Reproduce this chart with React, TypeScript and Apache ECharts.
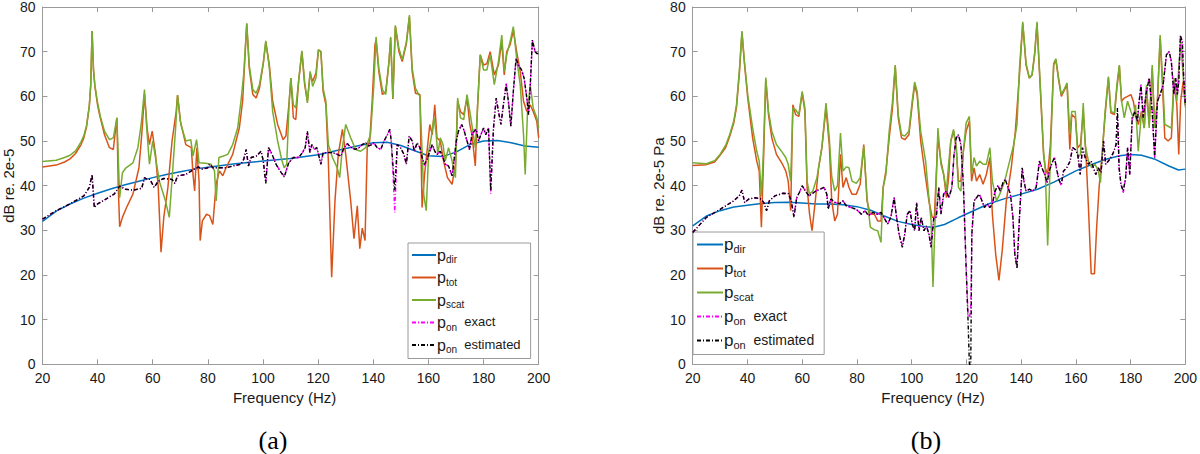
import React, { useEffect, useRef } from "react";
import * as echarts from "echarts";

// ---------- axis ticks ----------
const freqMin = 20;
const freqMax = 200;
const freqStep = 20;
const dbMin = 0;
const dbMax = 80;
const dbStep = 10;

// ---------- labels ----------
const seriesNames = ["p_dir", "p_tot", "p_scat", "p_on exact", "p_on estimated"];
const xName = "Frequency (Hz)";
const yNameA = "dB re. 2e-5";
const yNameB = "dB re. 2e-5 Pa";
const captionA = "(a)";
const captionB = "(b)";

// ---------- panel (a) data: [frequency Hz, dB] ----------
const aDir: number[][] = [[20,32],[25,34.3],[30,35.9],[35,37.2],[40,38.3],[45,39.3],[50,40.2],[55,41],[60,41.8],[65,42.5],[70,43.1],[75,43.7],[80,44.1],[90,44.9],[100,45.5],[110,46.1],[120,46.9],[130,48.3],[135,49],[140,49.6],[145,49.7],[150,49],[155,47.8],[160,46.7],[165,46.5],[170,47.5],[175,49.2],[180,50],[185,50.1],[190,49.6],[195,48.9],[200,48.6]];

const aTot: number[][] = [[20,44.2],[25,44.6],[28,45.3],[30,46],[32,47.2],[34,49.2],[35,50.7],[36,53.2],[37,57.8],[37.5,62.5],[38,74.6],[38.5,66],[39,62.3],[40,58],[40.7,55.9],[42.5,51.4],[44.3,48.5],[45.7,48.1],[47,55.2],[47.5,39.6],[48,30.8],[49,32.9],[50.5,35.1],[52.8,38.1],[55,44],[56,51.4],[57,60.5],[58,52.6],[58.8,49.2],[59.8,52.2],[61,47],[62,39.6],[63,25.1],[64,32.9],[65.5,39.6],[67,50],[68.5,56.6],[69,60.3],[70,54.5],[72,49.2],[74,48.5],[74.6,42.5],[75.2,38.8],[76,48.5],[76.8,41],[77.2,27.7],[78,32.1],[79.5,33.6],[80.6,33.3],[81.8,31.3],[83,40.4],[84.2,43.3],[85.4,42.2],[86.6,44],[89,47],[91.4,52.9],[92.6,58.9],[94.1,76.3],[95,66.3],[96.3,60.4],[97.5,59.6],[98.7,61.8],[100.1,67.4],[101,72.2],[102.3,67],[103.5,58.9],[105.3,53.7],[107.3,50.3],[108.3,51.1],[109.5,58.9],[110.1,64.1],[111,55.2],[111.9,54.8],[112.9,63.3],[114.1,70],[115.1,62.6],[116.1,58.9],[117.1,65.2],[118,63.3],[119.2,65.2],[120.1,70.4],[121,70],[121.8,61.1],[122.8,58.1],[123.7,45.5],[124.9,19.5],[126.1,36.6],[127.3,47],[128.8,52.6],[130,47],[131.8,36.6],[133,28.1],[134.2,35.5],[135.1,25.9],[136,30.5],[137,27.7],[137.8,48.5],[138.7,50],[139.6,58.9],[140.6,71.5],[141,72.6],[142,65.6],[143.3,60.4],[144.5,61],[145.7,67.8],[146.3,73],[147.1,59.4],[148,75.6],[149.3,70],[150.5,67.8],[152,71.8],[153.1,77.8],[154.1,65.6],[155.3,60.7],[156.9,60.4],[157.7,35.1],[158.6,42.5],[159.5,47.7],[160.5,53.7],[161.4,51.4],[162.3,58.1],[163.1,50.7],[164.3,50],[165.5,45.5],[166.9,41.8],[168.6,40.3],[169.8,44.8],[170.6,58.9],[171.6,56.6],[172.8,55.9],[174,59.6],[175,53.7],[175.8,51.4],[177,44.4],[177.8,57.4],[178.8,69.3],[180,67],[181.2,67.3],[182.4,70],[183.9,64.8],[185.4,67],[186.6,72.3],[187.5,64.8],[188.4,70],[189.6,71.5],[190.8,74.8],[192,70],[193.3,65.6],[194.5,58.9],[195.7,56.6],[196.9,58.1],[198,56.6],[199.3,54.4],[200,50.7]];

const aScat: number[][] = [[20,45.4],[25,45.7],[28,46.3],[30,46.8],[32,47.8],[34,49.8],[35,51.2],[36,53.5],[37,58],[37.5,62.5],[38,74.6],[38.5,66],[39,62.5],[40,58.5],[41,55.5],[42.5,52.2],[44.3,50.3],[45.7,50.7],[47,55.2],[48,37.3],[49,42.9],[50.3,44],[52.8,45.1],[54.6,48.5],[55.8,53.7],[57,61.5],[57.8,52.9],[58.8,44.8],[60,50],[61,46.3],[62.4,41],[64.6,36.6],[66,32.9],[67.3,44],[68.3,53],[69,60.3],[70.2,53.7],[72,50],[73.8,50.3],[74.6,46.6],[75.9,50.3],[76.8,45.1],[79.2,45],[81.2,44.8],[82.4,43.3],[83,36.6],[84,46.3],[85.4,46.6],[87.2,47],[89,49.2],[90.8,52.9],[92,58.9],[93,65],[94.1,76.3],[95,67],[96.3,61.5],[97.5,60.7],[98.7,62.6],[100.1,67.5],[101,72.4],[102.3,66.3],[103.5,56.6],[105.3,50],[106.9,45.5],[107.7,44],[108.6,44.8],[109.5,58.9],[110.1,64.1],[111,58.1],[111.9,57.4],[112.9,63.3],[114.1,70.2],[115.1,63.3],[116.1,58.5],[117.1,65.6],[118,62.2],[119.2,64.1],[120.1,70.4],[121,70],[121.8,61.8],[122.8,58.9],[123.7,49.2],[125.2,46.3],[126.9,44],[127.8,41.8],[128.8,48.5],[130,53.7],[131.8,50.7],[133.6,48.1],[135.4,47.7],[137.2,48.5],[139,51.4],[140.2,62.6],[141,73.3],[142,66.3],[143.3,61.5],[144.5,60.4],[145.7,67.8],[146.3,73.3],[147.1,59.6],[148,75.9],[149.3,70.7],[150.5,68.2],[152,72.2],[153.1,78.2],[154.1,66.3],[155.3,61.8],[156.9,60],[157.7,47.7],[158.3,38],[159.2,34.4],[160.1,47.7],[161,50.7],[162,55.2],[162.7,52.2],[163.4,47],[164.3,50.7],[165.3,49.2],[166.1,45.5],[167.3,48.5],[168.6,45.5],[169.8,41.8],[170.6,59.6],[171.6,55.2],[172.8,54.8],[174,60.4],[175.2,55.9],[176.1,52.2],[177,48.5],[177.8,57.4],[178.8,69.3],[180,65.9],[181.2,65.9],[182.4,69.3],[183.9,62.6],[185.4,67.8],[186.6,73.7],[187.5,65.6],[188.4,69.3],[189.6,72.2],[190.8,75.6],[192,68.5],[193.3,62.6],[194.5,51.4],[195.1,42.5],[195.9,55.9],[196.9,62.6],[198,57.4],[199.3,55.2],[200,53]];

const aExact: number[][] = [[20,32.5],[25,34.4],[30,35.9],[35,37.7],[37,39.6],[38,42.5],[38.8,35.1],[40,35.9],[43,37],[46,38.1],[48,39.9],[50,39.2],[53,39],[56,39.4],[57,41.8],[58,41.4],[59,41.4],[60.5,39.6],[62,41],[64,41.6],[67,41.4],[68,40.5],[69,42.2],[72,42.5],[75,43.7],[76.5,44.2],[78,43.7],[80,44],[80.6,44.8],[81.8,44],[84.2,44],[86.6,44],[89,44.4],[92,44.8],[93,45.9],[93.9,48.1],[94.7,44.4],[95.7,46.3],[97.5,46.6],[99.3,47.7],[100.1,45.5],[101,40.8],[102,48.5],[103.3,47],[104.7,44.8],[106.2,43.3],[107.7,42.1],[109.3,45.1],[111,46.3],[112.9,46.3],[114.3,47.4],[115.3,48.5],[116.1,51.8],[117,47.4],[117.7,49.2],[118.6,48.1],[119.5,48.5],[120.4,46.3],[121,44.8],[121.8,47.4],[123.4,47.4],[125.2,47.4],[127,47],[128.2,46.6],[129.4,48.5],[130.6,49.4],[131.8,48.6],[133.4,48.1],[134.8,48.5],[136,49.2],[137.2,49.6],[138.4,48.9],[139.6,49.2],[140.2,49.6],[141.4,48.5],[142.7,48.1],[143.9,50],[145.1,51.4],[146,52.6],[146.5,50],[147.2,42],[147.8,34],[148.7,49.2],[149.9,48.5],[151.1,47],[152,44.8],[153,51.1],[154.1,50],[154.9,47.7],[155.9,49.6],[156.9,48.5],[157.7,46.3],[158.6,44.5],[159.5,45.9],[160.5,47.7],[161.4,49.2],[162.3,47.7],[163.1,47],[164.3,47.7],[165.3,46.3],[166.1,44.8],[167.3,44.4],[168.6,42.2],[169.4,46.3],[170.1,50],[170.9,52.2],[172.1,53.7],[173,52.2],[174,50],[174.9,48.1],[175.8,51.4],[176.6,52.6],[177.3,52.6],[178.2,50],[179,51.4],[180,52.9],[180.8,51.4],[181.8,52.9],[182.6,38.2],[183.6,52.9],[184.6,59.6],[185.4,56.6],[186.3,53.7],[187.2,58.1],[188.2,63],[189,58.9],[189.9,53.3],[190.8,61.1],[191.8,68.5],[192.6,67],[193.8,65.9],[194.7,64.1],[195.7,59.6],[196.3,55.9],[196.9,61.8],[197.7,72.6],[198.7,70],[199.3,69.6],[200,69.6]];

const aEst: number[][] = [[20,32.5],[25,34.4],[30,35.9],[35,37.7],[37,39.6],[38,42.5],[38.8,35.1],[40,35.9],[43,37],[46,38.1],[48,39.9],[50,39.2],[53,39],[56,39.4],[57,41.8],[58,41.4],[59,41.4],[60.5,39.6],[62,41],[64,41.6],[67,41.4],[68,40.5],[69,42.2],[72,42.5],[75,43.7],[76.5,44.2],[78,43.7],[80,44],[80.6,44.8],[81.8,44],[84.2,44],[86.6,44],[89,44.4],[92,44.8],[93,45.9],[93.9,48.1],[94.7,44.4],[95.7,46.3],[97.5,46.6],[99.3,47.7],[100.1,45.5],[101,40.5],[102,48.5],[103.3,47],[104.7,44.8],[106.2,43.3],[107.7,41.9],[109.3,45.1],[111,46.3],[112.9,46.3],[114.3,47.4],[115.3,48.5],[116.1,52.2],[117,47.4],[117.7,49.2],[118.6,48.1],[119.5,48.5],[120.4,46.3],[121,44.8],[121.8,47.4],[123.4,47.4],[125.2,47.4],[127,47],[128.2,46.6],[129.4,48.5],[130.6,49.4],[131.8,48.6],[133.4,48.1],[134.8,48.5],[136,49.2],[137.2,49.6],[138.4,48.9],[139.6,49.2],[140.2,49.6],[141.4,48.5],[142.7,48.1],[143.9,50],[145.1,51.4],[146,52.6],[146.5,50],[147.2,44],[147.8,39],[148.7,49.2],[149.9,48.5],[151.1,47],[152,44.8],[153,51.1],[154.1,50],[154.9,47.7],[155.9,49.6],[156.9,48.5],[157.7,46.3],[158.6,44.8],[159.5,45.9],[160.5,47.7],[161.4,49.2],[162.3,47.7],[163.1,47],[164.3,47.7],[165.3,46.3],[166.1,44.8],[167.3,44.4],[168.6,42.2],[169.4,46.3],[170.1,50],[170.9,52.2],[172.1,53.7],[173,52.2],[174,50],[174.9,48.1],[175.8,51.4],[176.6,52.2],[177.3,52.6],[178.2,50],[179,51.4],[180,52.9],[180.8,51.4],[181.8,52.9],[182.6,38.8],[183.6,52.9],[184.6,59.6],[185.4,56.6],[186.3,53.7],[187.2,58.1],[188.2,62.6],[189,58.9],[189.9,53.3],[190.8,61.1],[191.8,68.5],[192.6,67],[193.8,65.9],[194.7,64.1],[195.7,59.6],[196.3,55.9],[196.9,61.8],[197.7,72.6],[198.7,70],[199.3,69.6],[200,69.6]];

// ---------- panel (b) data: [frequency Hz, dB] ----------
const bDir: number[][] = [[20,31],[25,33.2],[30,34.4],[35,35.2],[40,35.6],[45,36],[50,36.2],[55,36.3],[60,36.1],[65,35.9],[70,35.9],[75,35.7],[80,35.3],[85,34.5],[90,33.2],[95,32],[100,31.3],[105,30.8],[108,30.7],[112,31.3],[117,32.8],[122,34.2],[128,35.9],[134,37.1],[140,38.1],[146,39.2],[152,40.8],[160,43.3],[166,44.8],[171,45.9],[176,46.7],[180,47],[184,46.8],[189,45.9],[194,44.4],[197.5,43.5],[200,43.7]];

const bTot: number[][] = [[20,44.5],[25,44.7],[28,45.3],[30,46.8],[32,48.5],[33.5,51],[35,54],[36,57.5],[37.1,65.5],[38,74.3],[38.9,67.4],[40.1,59.7],[41.9,50.7],[43.4,45.5],[44.3,43.3],[45.1,30.7],[45.8,44],[46.7,63.7],[47.7,55.9],[48.9,50.7],[50.6,47],[52.8,44.8],[54,43.3],[54.9,41],[55.8,34.4],[56.6,58.1],[57.6,55.9],[58.8,55.5],[60,60.7],[61,56.6],[61.8,39.6],[62.7,33.6],[63.6,29.9],[64.8,36.6],[66,44],[67.2,48.5],[68.7,57.4],[69.9,49.2],[70.8,36.6],[71.9,32.1],[72.9,33.6],[74,47],[74.9,39.6],[76.1,41.8],[77.1,39.6],[78.2,38.1],[79.8,38.1],[81.2,40.3],[82.5,49.2],[83.7,36.6],[84.9,33.6],[86.4,33.6],[87.6,32.1],[88.8,32.1],[89.6,39.6],[90.6,43.3],[91.8,50.7],[93,57.4],[94,66.7],[95.1,55.2],[96.3,50.7],[97.5,50.3],[99,51.4],[100.2,58.1],[101.1,62.6],[102,60.4],[103.3,50],[105.1,41.8],[106.3,36.6],[107.5,32.9],[108.3,32.9],[109.6,50.7],[110.7,45.5],[111.7,42.5],[112.7,37.3],[113.5,41.8],[114.3,50],[115.3,52.2],[116.3,48.5],[117.1,41],[118,41],[118.9,47.7],[119.9,52.2],[121.1,54.4],[121.9,41],[122.8,44],[123.7,41],[124.9,42.5],[126.1,40.3],[127.3,42.5],[128.6,46.3],[129.5,33.6],[130.7,24.7],[131.9,18.8],[133.1,25.5],[134.6,36.6],[136.4,44],[137.9,52.2],[139.4,64.8],[140.6,76.3],[141.8,67],[143,64.1],[144,64.8],[145,69.6],[145.8,76.3],[147,61.8],[148.2,47],[148.8,44],[149.7,42.5],[150.7,49.2],[151.9,67],[152.7,68.2],[153.7,63.7],[154.7,60],[155.9,61.5],[156.8,62.6],[157.8,48.1],[158.5,55.9],[159.8,55.2],[160.7,48.5],[161.7,49.2],[162.7,56.6],[163.7,47],[164.6,35.1],[165.6,20.3],[166.8,20.3],[167.6,30.7],[168.5,39.6],[169.5,46.3],[170.7,55.9],[171.9,64.1],[172.8,56.3],[174.1,55.9],[175,61.8],[175.9,66.7],[176.7,58.9],[177.7,59.6],[178.9,60],[180.1,60.4],[181,58.9],[181.8,55.9],[182.8,53.7],[184,56.6],[185,52.9],[185.8,61.8],[186.8,53.7],[187.9,66.3],[188.8,52.9],[189.8,58.9],[190.8,73],[191.6,63.3],[192.5,50.7],[193.7,50],[194.9,50.7],[195.9,63.3],[196.9,58.1],[197.6,47],[198.3,58.9],[199.2,63.3],[200,58.1]];

const bScat: number[][] = [[20,45.1],[25,44.9],[28,45.6],[30,47],[32,49],[33.5,51.4],[35,54.5],[36,58.1],[37.1,66.3],[38,74.6],[38.9,67.8],[40.1,60.4],[41.9,52.9],[43.4,47.7],[44.3,45.5],[45.1,37.7],[45.8,47],[46.7,64.2],[47.7,56.6],[48.9,52.2],[50.6,49.2],[52.8,47.4],[54,46.3],[54.9,44.8],[55.8,41],[56.6,57.4],[57.6,57],[58.8,55.9],[60,61.1],[61,57.4],[61.8,41],[62.7,38.1],[63.9,38.8],[65.4,41.8],[67.2,48.5],[68.7,58.5],[69.9,50.7],[70.8,42],[71.9,38.8],[72.9,40],[74,51.8],[74.9,43.3],[76.1,44.2],[77.1,44],[78.2,41],[79.8,40.5],[81.2,41.8],[82.5,48.8],[83.7,37.3],[84.9,30.7],[86.4,30.1],[87.6,29.9],[88.8,27.3],[89.6,39.6],[90.6,42.5],[91.8,52.2],[93,58.9],[94,67],[95.1,55.9],[96.3,51.4],[97.5,51.1],[99,52.2],[100.2,58.9],[101.1,63.2],[102,61.1],[103.3,52.2],[105.1,45.5],[106.3,37.3],[107.1,32.1],[107.8,17.3],[108.7,35.1],[109.6,52.9],[110.7,44.8],[111.7,42.5],[112.7,38.8],[113.5,44.8],[114.3,50],[115.3,52.6],[116.3,48.5],[117.1,39.6],[118,38.8],[118.9,47.7],[119.9,54],[121.1,55.5],[121.9,42.5],[122.8,46.3],[123.7,44.4],[124.9,45.5],[126.1,44.8],[127.3,44.8],[128.6,48.5],[129.5,41],[131,36.6],[132.2,38.1],[134,41],[135.8,45.5],[137.3,49.2],[138.5,53.7],[139.4,66.3],[140.6,76.7],[141.8,67.4],[143,64.1],[144,64.8],[145,70],[145.8,76.7],[147,62.6],[148.2,47.7],[148.8,44],[149.7,26.6],[150.7,46.3],[151.9,67.4],[152.7,68.4],[153.7,64.1],[154.7,60.4],[155.9,61.8],[156.8,63],[157.8,51.4],[158.5,56.6],[159.8,56.6],[160.7,46.3],[161.7,47],[162.7,58.5],[163.4,49.2],[164.6,45.5],[165.8,44],[167,44.8],[168.2,43.3],[169,40.7],[169.7,47.7],[170.7,56.6],[171.9,64.4],[172.8,56.6],[174.1,56.3],[175,62.6],[175.9,67],[176.7,58.9],[177.7,55.2],[178.9,58.9],[180.1,56.6],[181,55.2],[181.8,58.1],[182.8,47.7],[184,56.6],[185,52.9],[185.8,62.6],[186.8,52.9],[187.9,67],[188.8,52.9],[189.8,58.9],[190.8,73.7],[191.6,64.8],[192.5,53.7],[193.7,53.3],[194.9,52.9],[195.9,64.1],[196.9,58.9],[197.6,66.3],[198.3,72.2],[199.2,64.8],[200,57.5]];

const bExact: number[][] = [[20,29.5],[25,32.9],[30,34.7],[35,36.6],[37,37.7],[38,39],[39,36.2],[40.5,37],[43,37.3],[45,37],[46,36.2],[47,34.4],[48,36.6],[50,37.7],[53,38.3],[55,38.2],[56,36.6],[57,33.2],[58,37.3],[59,38.5],[60,40],[61.5,38.5],[62.5,37.7],[65,38.8],[68,39.6],[69,38.1],[69.5,35],[70.5,37],[72.1,36.2],[73.7,36],[74.9,36.6],[76.1,35.5],[77.9,35.1],[79.8,34.7],[81.6,33.6],[83,34.4],[84.2,33.3],[85.8,34],[87.3,33.6],[88.8,34],[90.2,32.5],[91.2,31.4],[92.4,32.9],[93.6,37.3],[94.5,32.9],[95.4,29.2],[96.6,26.5],[97.5,29.2],[98.4,33.6],[99.4,34.4],[100.2,31.4],[101.1,29.9],[101.8,36.2],[102.7,29.9],[103.5,32.9],[104.5,29.9],[105.4,31],[106.3,29.2],[107.1,26.5],[108.1,32.9],[109,32.9],[109.9,39.6],[110.7,33.6],[111.7,38.1],[112.7,38.8],[113.6,37.3],[114.7,39.6],[115.5,47],[116.3,50.7],[117.1,51.4],[118,49.2],[118.9,40.3],[119.9,21.8],[120.6,11],[121.1,10.5],[121.6,12],[122,29.2],[122.8,36.6],[123.7,37.3],[124.7,38.1],[125.7,36.6],[126.6,35.1],[127.6,35.9],[128.6,35.1],[129.5,35.9],[130.5,38.8],[131.5,40],[132.4,38.8],[133.4,40.7],[134.2,41.4],[135.2,39.6],[136.1,38.1],[137,32.9],[137.7,24.7],[138.5,22],[139.4,32.9],[140.4,44],[141,41.1],[141.8,38.8],[143,39.2],[144.2,38.8],[145.5,39.6],[146.7,45.5],[147.6,44],[148.6,42.5],[149.5,40.7],[150.3,43.3],[151.3,45.1],[152.2,46.3],[153.1,43.3],[153.9,41.1],[154.7,40],[155.5,43.3],[156.7,44],[157.9,45.5],[158.8,48.5],[159.8,48.1],[160.7,47],[161.6,42.5],[162.4,48.5],[163.4,46.3],[164.6,44.8],[165.6,45.5],[166.4,44],[167.3,42.5],[168.2,44],[169.2,42.9],[170.1,50],[170.9,44.8],[171.9,45.5],[172.8,46.3],[173.7,47.4],[174.7,49.2],[175.2,55.5],[175.8,44],[176.5,40.3],[177.3,38.3],[178.2,41.8],[178.9,48.5],[179.7,42.5],[180.6,55.2],[181.6,56.6],[182.5,54.4],[183,58.1],[183.8,62.6],[184.6,55.2],[185.6,60.4],[186.8,64.1],[187.9,56.6],[188.8,46.3],[189.8,58.9],[190.8,60.4],[191.9,62.6],[193.1,69.3],[194.1,70],[194.9,67.8],[195.8,60.4],[196.5,64.1],[197.1,60.4],[197.6,63.3],[198.2,73.2],[198.9,72.2],[199.4,64.1],[200,58.1]];

const bEst: number[][] = [[20,29.5],[25,32.9],[30,34.7],[35,36.6],[37,37.7],[38,39],[39,36.2],[40.5,37],[43,37.3],[45,37],[46,36.2],[47,34.4],[48,36.6],[50,37.7],[53,38.3],[55,38.2],[56,36.6],[57,32.9],[58,37.3],[59,38.5],[60,40],[61.5,38.5],[62.5,37.7],[65,38.8],[68,39.6],[69,38.1],[69.5,34.7],[70.5,37],[72.1,36.2],[73.7,36],[74.9,36.6],[76.1,35.5],[77.9,35.1],[79.8,34.7],[81.6,33.6],[83,34.4],[84.2,33.3],[85.8,34],[87.3,33.6],[88.8,34],[90.2,32.5],[91.2,31.4],[92.4,32.9],[93.6,37.3],[94.5,32.9],[95.4,29.2],[96.6,26.2],[97.5,29.2],[98.4,33.6],[99.4,34.4],[100.2,31.4],[101.1,29.9],[101.8,36.2],[102.7,29.9],[103.5,32.9],[104.5,29.9],[105.4,31],[106.3,29.2],[107.1,26.2],[108.1,32.9],[109,32.9],[109.9,39.6],[110.7,33.6],[111.7,38.1],[112.7,38.8],[113.6,37.3],[114.7,39.6],[115.5,47],[116.3,50.7],[117.1,51.4],[118,49.2],[118.9,40.3],[119.9,21.8],[120.6,9.9],[121.1,0],[121.6,0],[122,29.2],[122.8,36.6],[123.7,37.3],[124.7,38.1],[125.7,36.6],[126.6,35.1],[127.6,35.9],[128.6,35.1],[129.5,35.9],[130.5,38.8],[131.5,40],[132.4,38.8],[133.4,40.7],[134.2,41.4],[135.2,39.6],[136.1,38.1],[137,32.9],[137.7,24.7],[138.5,21.4],[139.4,32.9],[140.4,44],[141,41.1],[141.8,38.8],[143,39.2],[144.2,38.8],[145.5,39.6],[146.7,45.5],[147.6,44],[148.6,42.5],[149.5,40.7],[150.3,43.3],[151.3,45.1],[152.2,46.3],[153.1,43.3],[153.9,41.1],[154.7,40.3],[155.5,43.3],[156.7,44],[157.9,45.5],[158.8,48.5],[159.8,48.1],[160.7,47],[161.6,42.5],[162.4,48.5],[163.4,46.3],[164.6,44.8],[165.6,45.5],[166.4,44],[167.3,42.5],[168.2,44],[169.2,42.9],[170.1,50],[170.9,44.8],[171.9,45.5],[172.8,46.3],[173.7,47.4],[174.7,49.2],[175.2,57.4],[175.8,44],[176.5,40.3],[177.3,38.8],[178.2,41.8],[178.9,48.5],[179.7,42.5],[180.6,55.2],[181.6,56.6],[182.5,54.4],[183,58.1],[183.8,62.6],[184.6,55.2],[185.6,60.4],[186.8,64.1],[187.9,56.6],[188.8,46.3],[189.8,58.9],[190.8,60.4],[191.9,62.6],[193.1,69.3],[194.1,70],[194.9,67.8],[195.8,60.4],[196.5,64.1],[197.1,60.4],[197.6,63.3],[198.2,73.7],[198.9,72.2],[199.4,64.1],[200,58.1]];

// ---------- styling ----------
const COL_DIR = "#0072BD";
const COL_TOT = "#D95319";
const COL_SCAT = "#77AC30";
const COL_EXACT = "#FF00FF";
const COL_EST = "#000000";
const AXIS_COL = "#9a9a9a";
const TEXT_COL = "#1a1a1a";
const SANS = "'Liberation Sans', Arial, sans-serif";
const SERIF = "'Liberation Serif', 'Times New Roman', serif";

const legendLabels: Record<string, string> = {
  p_dir: "{m|p}{s|dir}",
  p_tot: "{m|p}{s|tot}",
  p_scat: "{m|p}{s|scat}",
  "p_on exact": "{m|p}{s|on}{t|  exact}",
  "p_on estimated": "{m|p}{s|on}{t|  estimated}",
};

function lineSeries(name: string, data: number[][], color: string, idx: number, dashed: boolean, z: number) {
  return {
    type: "line",
    name,
    data,
    xAxisIndex: idx,
    yAxisIndex: idx,
    symbol: "none",
    showSymbol: false,
    silent: true,
    z,
    clip: true,
    itemStyle: { color },
    lineStyle: {
      color,
      width: dashed ? 1.4 : 1.5,
      type: dashed ? [4, 2, 1, 2] : "solid",
    },
  };
}

function bottomX(gridIndex: number) {
  return {
    type: "value",
    gridIndex,
    min: freqMin,
    max: freqMax,
    interval: freqStep,
    position: "bottom",
    name: xName,
    nameLocation: "middle",
    nameGap: 24,
    nameTextStyle: { fontFamily: SANS, fontSize: 15, color: TEXT_COL, padding: [0, 12, 0, 0] },
    axisLine: { show: true, onZero: false, lineStyle: { color: AXIS_COL, width: 1 } },
    axisTick: { show: true, inside: true, length: 5, lineStyle: { color: AXIS_COL } },
    axisLabel: { fontFamily: SANS, fontSize: 14, color: TEXT_COL, margin: 7 },
    splitLine: { show: false },
  };
}
function topX(gridIndex: number) {
  return {
    type: "value",
    gridIndex,
    min: freqMin,
    max: freqMax,
    interval: freqStep,
    position: "top",
    axisLine: { show: true, onZero: false, lineStyle: { color: AXIS_COL, width: 1 } },
    axisTick: { show: true, inside: true, length: 5, lineStyle: { color: AXIS_COL } },
    axisLabel: { show: false },
    splitLine: { show: false },
  };
}
function leftY(gridIndex: number, name: string, gap: number) {
  return {
    type: "value",
    gridIndex,
    min: dbMin,
    max: dbMax,
    interval: dbStep,
    position: "left",
    name,
    nameLocation: "middle",
    nameGap: gap,
    nameTextStyle: { fontFamily: SANS, fontSize: 15, color: TEXT_COL },
    axisLine: { show: true, onZero: false, lineStyle: { color: AXIS_COL, width: 1 } },
    axisTick: { show: true, inside: true, length: 5, lineStyle: { color: AXIS_COL } },
    axisLabel: { fontFamily: SANS, fontSize: 14, color: TEXT_COL, margin: 7 },
    splitLine: { show: false },
  };
}
function rightY(gridIndex: number) {
  return {
    type: "value",
    gridIndex,
    min: dbMin,
    max: dbMax,
    interval: dbStep,
    position: "right",
    axisLine: { show: true, onZero: false, lineStyle: { color: AXIS_COL, width: 1 } },
    axisTick: { show: true, inside: true, length: 5, lineStyle: { color: AXIS_COL } },
    axisLabel: { show: false },
    splitLine: { show: false },
  };
}

function legendBox(left: number, top: number, fs: number, gap: number, iw: number) {
  return {
    show: true,
    data: seriesNames,
    orient: "vertical",
    left,
    top,
    itemWidth: iw,
    itemHeight: 12,
    itemGap: gap,
    padding: [4, 10, 4, 3],
    backgroundColor: "#ffffff",
    borderColor: "#9a9a9a",
    borderWidth: 1,
    borderRadius: 0,
    selectedMode: false,
    itemStyle: { opacity: 0, borderWidth: 0 },
    formatter: (name: string) => legendLabels[name],
    textStyle: {
      color: TEXT_COL,
      fontFamily: SANS,
      padding: [0, 0, 0, -4],
      rich: {
        m: { fontFamily: SANS, fontSize: fs + 3, lineHeight: fs + 6, verticalAlign: "middle", color: TEXT_COL },
        s: { fontFamily: SANS, fontSize: fs - 3, lineHeight: fs - 3, verticalAlign: "bottom", color: TEXT_COL },
        t: { fontFamily: SANS, fontSize: fs, lineHeight: fs + 6, verticalAlign: "middle", color: TEXT_COL, padding: [0, 0, 2, 0] },
      },
    },
  };
}

export default function App() {
  const ref = useRef<HTMLDivElement>(null);

  useEffect(() => {
    if (!ref.current) return;
    const chart = echarts.init(ref.current, undefined, { renderer: "svg" });
    const option: any = {
      animation: false,
      backgroundColor: "#ffffff",
      grid: [
        { left: 40.7, top: 5, width: 498, height: 359.3, containLabel: false },
        { left: 692.7, top: 5, width: 497.6, height: 359.3, containLabel: false },
      ],
      xAxis: [bottomX(0), bottomX(1), topX(0), topX(1)],
      yAxis: [leftY(0, yNameA, 24), leftY(1, yNameB, 27), rightY(0), rightY(1)],
      legend: [legendBox(408, 243, 13, 5, 24), legendBox(693, 232, 14, 5.5, 26)],
      series: [
        lineSeries("p_dir", aDir, COL_DIR, 0, false, 2),
        lineSeries("p_tot", aTot, COL_TOT, 0, false, 3),
        lineSeries("p_scat", aScat, COL_SCAT, 0, false, 4),
        lineSeries("p_on exact", aExact, COL_EXACT, 0, true, 5),
        lineSeries("p_on estimated", aEst, COL_EST, 0, true, 6),
        lineSeries("p_dir", bDir, COL_DIR, 1, false, 2),
        lineSeries("p_tot", bTot, COL_TOT, 1, false, 3),
        lineSeries("p_scat", bScat, COL_SCAT, 1, false, 4),
        lineSeries("p_on exact", bExact, COL_EXACT, 1, true, 5),
        lineSeries("p_on estimated", bEst, COL_EST, 1, true, 6),
      ],
      graphic: [
        {
          type: "text",
          x: 273,
          y: 440,
          style: { text: captionA, fontFamily: SERIF, fontSize: 26, fill: "#000", align: "center", verticalAlign: "middle" },
        },
        {
          type: "text",
          x: 926,
          y: 440,
          style: { text: captionB, fontFamily: SERIF, fontSize: 26, fill: "#000", align: "center", verticalAlign: "middle" },
        },
      ],
    };
    chart.setOption(option);
    return () => chart.dispose();
  }, []);

  return (
    <div
      ref={ref}
      style={{ position: "fixed", left: 0, top: 0, width: 1200, height: 454, background: "#fff" }}
    />
  );
}
